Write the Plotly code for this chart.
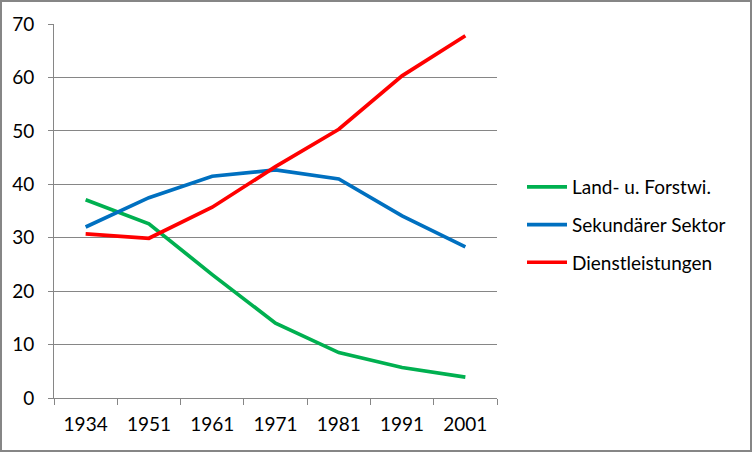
import plotly.graph_objects as go

# Anteil der Beschäftigten nach Sektoren (%)
years = ["1934", "1951", "1961", "1971", "1981", "1991", "2001"]
land_forst = [37.1, 32.6, 23.1, 14.0, 8.5, 5.7, 3.9]
sekundaer = [32.0, 37.5, 41.5, 42.7, 41.0, 34.1, 28.3]
dienst = [30.7, 29.9, 35.7, 43.3, 50.3, 60.3, 67.8]

series = [
    ("Land- u. Forstwi.", land_forst, "#00B050"),
    ("Sekundärer Sektor", sekundaer, "#0070C0"),
    ("Dienstleistungen", dienst, "#FF0000"),
]

W, H = 752, 452
ML, MR, MT, MB = 54, 255, 24, 54
pw, ph = W - ML - MR, H - MT - MB

fig = go.Figure()
for i, (name, vals, col) in enumerate(series):
    fig.add_trace(go.Scatter(
        x=years, y=vals, mode="lines", name=name,
        legendgroup=str(i),
        line=dict(color=col, width=3.7),
    ))

grey = "#868686"
font = dict(family="Lato, Carlito, Calibri, sans-serif", size=19, color="#000000")

# Rahmen um das ganze Diagramm
fig.add_shape(
    type="rect", xref="paper", yref="paper",
    x0=(1 - ML) / pw, x1=(W - 1 - ML) / pw,
    y0=-(MB - 1) / ph, y1=(H - 1 - MB) / ph,
    line=dict(color=grey, width=2), fillcolor="rgba(0,0,0,0)",
)

fig.update_layout(
    width=W, height=H,
    margin=dict(l=ML, r=MR, t=MT, b=MB),
    plot_bgcolor="white", paper_bgcolor="white",
    font=font,
    xaxis=dict(
        type="category", range=[-0.5, 6.5],
        showgrid=False, zeroline=False,
        showline=True, linecolor=grey, linewidth=1,
        ticks="outside", tickson="boundaries", ticklen=6, tickcolor=grey,
        ticklabelstandoff=9,
    ),
    yaxis=dict(
        range=[0, 70], dtick=10,
        showgrid=True, gridcolor=grey, gridwidth=1,
        zeroline=False,
        showline=True, linecolor=grey, linewidth=1,
        ticks="outside", ticklen=5, tickcolor=grey,
        ticklabelstandoff=10,
    ),
    showlegend=True,
    legend=dict(
        x=(522 - ML) / pw, xanchor="left",
        y=(H - MB - 225) / ph, yanchor="middle",
        traceorder="grouped", tracegroupgap=10,
        itemwidth=40,
        font=font, bgcolor="rgba(0,0,0,0)",
    ),
)

# Browser-Standardrand entfernen, damit das Bild genau ins Fenster passt
fig.write_html("out.html", config={"displayModeBar": False},
               post_script="document.body.style.margin='0';")
